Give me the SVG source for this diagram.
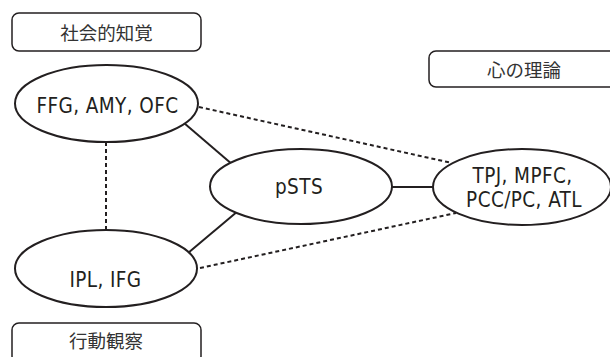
<svg xmlns="http://www.w3.org/2000/svg" width="610" height="357" viewBox="0 0 610 357">
<style>
.box{fill:#fff;stroke:#231f20;stroke-width:1.5}
.node{fill:#fff;stroke:#231f20;stroke-width:2}
.lbl{font-family:"Noto Sans CJK JP","Noto Sans",sans-serif;font-size:18.5px;fill:#333;text-anchor:middle;dominant-baseline:central}
.nt{font-family:"DejaVu Sans Condensed","DejaVu Sans",sans-serif;font-stretch:condensed;font-size:20.5px;fill:#231f20;text-anchor:middle;letter-spacing:0.4px}
.solid{stroke:#231f20;stroke-width:2;fill:none}
.dash{stroke:#231f20;stroke-width:2;fill:none;stroke-dasharray:4 3}
</style>
<rect width="610" height="357" fill="#fff"/>
<g id="connectors">
<line class="dash" x1="199" y1="107" x2="452" y2="163"/>
<line class="dash" x1="200" y1="268" x2="456" y2="213"/>
<line class="dash" x1="106" y1="142" x2="106" y2="230"/>
<line class="solid" x1="184" y1="123" x2="240" y2="171"/>
<line class="solid" x1="188" y1="253" x2="238" y2="211"/>
<line class="solid" x1="390" y1="187" x2="435" y2="187"/>
</g>
<g id="label-social">
<rect class="box" x="12" y="13" width="189" height="38" rx="7"/>
<text class="lbl" x="106.5" y="32">社会的知覚</text>
</g>
<g id="label-tom">
<rect class="box" x="429" y="51" width="189" height="36" rx="7"/>
<text class="lbl" x="524" y="69">心の理論</text>
</g>
<g id="label-action">
<rect class="box" x="12" y="323" width="189" height="40" rx="7"/>
<text class="lbl" x="106" y="340">行動観察</text>
</g>
<g id="node-ffg">
<ellipse class="node" cx="106.5" cy="103.5" rx="91.5" ry="38.5"/>
<text class="nt" x="107.5" y="113">FFG, AMY, OFC</text>
</g>
<g id="node-psts">
<ellipse class="node" cx="301" cy="186.5" rx="91" ry="37.5"/>
<text class="nt" x="299" y="194">pSTS</text>
</g>
<g id="node-tpj">
<ellipse class="node" cx="522" cy="187" rx="89" ry="38"/>
<text class="nt" x="522.5" y="183">TPJ, MPFC,</text>
<text class="nt" x="524" y="207">PCC/PC, ATL</text>
</g>
<g id="node-ipl">
<ellipse class="node" cx="106" cy="268.5" rx="91" ry="38.5"/>
<text class="nt" x="105.5" y="287">IPL, IFG</text>
</g>
</svg>
